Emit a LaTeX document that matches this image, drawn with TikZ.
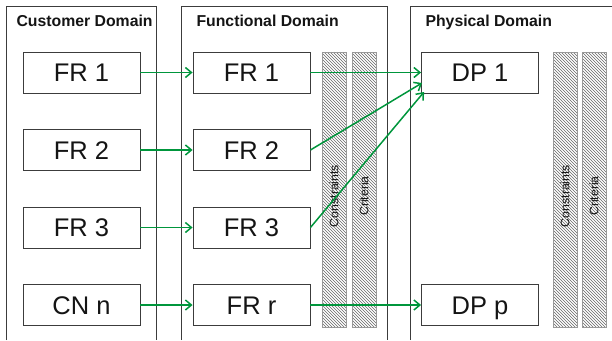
\documentclass[tikz,border=0pt]{standalone}
\usepackage{fontspec}
\setmainfont{Liberation Sans}
\usetikzlibrary{arrows.meta,patterns}
\definecolor{flowgreen}{RGB}{0,150,60}
\definecolor{linegray}{RGB}{60,60,60}
\tikzset{
  domainline/.style={draw=linegray,line width=1pt},
  frbox/.style={draw=linegray,line width=0.9pt,minimum width=117pt,minimum height=41pt,
    inner sep=0pt,text height=18.5pt,text depth=0pt,font=\fontsize{25.5}{30}\selectfont,text=black!92},
  hatchcol/.style={draw=gray!80,line width=0.8pt,pattern=north west lines,pattern color=black!60,
    minimum width=24pt,minimum height=275pt,inner sep=0pt},
  coltext/.style={rotate=90,font=\fontsize{12.3}{14}\selectfont,text=black!92},
  title/.style={anchor=base west,font=\fontsize{15.8}{18}\selectfont\bfseries,text=black!92},
  flow/.style={draw=flowgreen,line width=1.5pt,-{Straight Barb[length=6pt,width=10pt]}}
}
\begin{document}
\begin{tikzpicture}[x=1pt,y=-1pt]
    \useasboundingbox (0,0) rectangle (612,340);
    % Domains
    \draw[domainline] (6,340) -- (6,6) -- (156,6) -- (156,340);
    \draw[domainline] (181,340) -- (181,6) -- (387,6) -- (387,340);
    \draw[domainline] (410,340) -- (410,6) -- (612,6);
    \node[title] (custtitle) at (13,26) {Customer Domain};
    \node[title] (functitle) at (193,26) {Functional Domain};
    \node[title] (phystitle) at (422,26) {Physical Domain};
    % Hatched columns
    \node[hatchcol] (fcons) at (334,189.5) {};
    \node[hatchcol] (fcrit) at (364,189.5) {};
    \node[hatchcol] (pcons) at (565,189.5) {};
    \node[hatchcol] (pcrit) at (594,189.5) {};
    \node[coltext] at (334,196) {Constraints};
    \node[coltext] at (364,196) {Criteria};
    \node[coltext] at (565,196) {Constraints};
    \node[coltext] at (594,196) {Criteria};
    % Customer domain boxes
    \node[frbox] (cfr1) at (81.5,72.5) {FR 1};
    \node[frbox] (cfr2) at (81.5,150) {FR 2};
    \node[frbox] (cfr3) at (81.5,227.5) {FR 3};
    \node[frbox] (cnn) at (81.5,305) {CN n};
    % Functional domain boxes
    \node[frbox] (ffr1) at (251.5,72.5) {FR 1};
    \node[frbox] (ffr2) at (251.5,150) {FR 2};
    \node[frbox] (ffr3) at (251.5,227.5) {FR 3};
    \node[frbox] (ffrr) at (251.5,305) {FR r};
    % Physical domain boxes
    \node[frbox] (dp1) at (480,72.5) {DP 1};
    \node[frbox] (dpp) at (480,305) {DP p};
    % Mappings
    \coordinate (dp1b) at (422,83);
    \coordinate (dp1c) at (424,92);
    \draw[flow] (cfr1) -- (ffr1);
    \draw[flow] (cfr2) -- (ffr2);
    \draw[flow] (cfr3) -- (ffr3);
    \draw[flow] (cnn) -- (ffrr);
    \draw[flow] (ffr1) -- (dp1);
    \draw[flow] (ffr2.east) -- (dp1b);
    \draw[flow] (ffr3.east) -- (dp1c);
    \draw[flow] (ffrr) -- (dpp);
\end{tikzpicture}
\end{document}
